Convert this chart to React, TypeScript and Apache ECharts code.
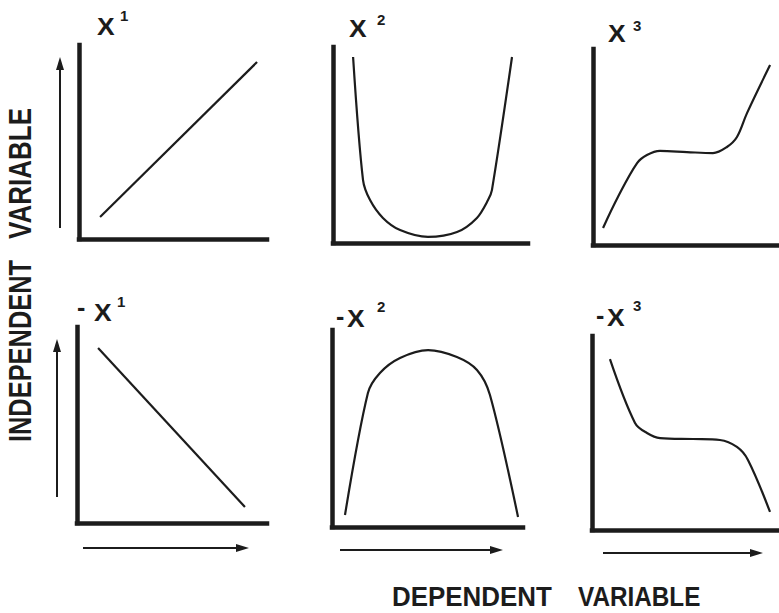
import React, { useEffect, useRef } from "react";
import * as echarts from "echarts";

// Curve shapes (x: 0-100 along dependent axis, y: 0-100 along independent axis)
const xPow1: number[][] = [[11.2, 11.3], [94.7, 91.2]];
const xPow2: number[][] = [
  [10.3, 94.9], [15.4, 32.1], [19.0, 21.9], [25.6, 12.8], [34.4, 6.6], [48.7, 3.1],
  [63.6, 5.6], [73.8, 12.8], [79.5, 21.9], [81.5, 27.0], [91.8, 94.9],
];
const xPow3: number[][] = [
  [5.4, 8.7], [13.4, 24.5], [23.7, 41.8], [29.0, 45.9], [36.0, 48.0], [50.5, 47.4],
  [64.5, 46.9], [72.0, 50.0], [77.4, 55.1], [82.8, 67.3], [95.2, 91.8],
];
const negPow1: number[][] = [[11.1, 89.3], [88.4, 8.2]];
const negPow2: number[][] = [
  [6.8, 6.1], [18.8, 68.0], [25.1, 78.2], [35.6, 85.8], [50.3, 89.8], [65.4, 86.3],
  [75.9, 79.7], [82.7, 67.0], [97.4, 5.1],
];
const negPow3: number[][] = [
  [9.6, 88.1], [23.0, 55.2], [29.4, 50.0], [36.4, 47.4], [54.0, 46.9], [68.4, 46.4],
  [77.5, 42.8], [83.4, 36.1], [95.2, 9.3],
];

const panelSeries = [xPow1, xPow2, xPow3, negPow1, negPow2, negPow3];
const panelSmooth = [false, 0.3, 0.35, false, 0.3, 0.35];
const titleSign = ["", "", "", "-", "-", "-"];
const titleBase = ["X", "X", "X", "X", "X", "X"];
const titleExp = ["1", "2", "3", "1", "2", "3"];
const yAxisLabel = ["INDEPENDENT", "VARIABLE"];
const xAxisLabel = ["DEPENDENT", "VARIABLE"];

// layout (pixels)
const grids = [
  { left: 79, top: 45, width: 188, height: 194 },
  { left: 333, top: 47, width: 195, height: 196 },
  { left: 593, top: 49, width: 186, height: 196 },
  { left: 77, top: 327, width: 190, height: 196 },
  { left: 332, top: 330, width: 191, height: 197 },
  { left: 592, top: 336, width: 187, height: 194 },
];
// title layout: minus left/centre y, X left, X cap-centre y, exponent left, exponent centre y
const titlePos = [
  { ml: 0, my: 0, xl: 97, xy: 26, el: 120, ey: 15.5 },
  { ml: 0, my: 0, xl: 349, xy: 28.5, el: 377, ey: 19.5 },
  { ml: 0, my: 0, xl: 608, xy: 33, el: 633, ey: 25 },
  { ml: 77, my: 309, xl: 94, xy: 312.5, el: 117, ey: 301.5 },
  { ml: 336, my: 317.5, xl: 347, xy: 318, el: 377, ey: 306 },
  { ml: 596, my: 317, xl: 607, xy: 317.5, el: 633, ey: 305 },
];

const INK = "#1c1c1c";
const FONT = '"Liberation Sans", Arial, Helvetica, sans-serif';

function arrow(x1: number, y1: number, x2: number, y2: number) {
  const dx = x2 - x1;
  const dy = y2 - y1;
  const len = Math.sqrt(dx * dx + dy * dy);
  const ux = dx / len;
  const uy = dy / len;
  const headL = 13;
  const headW = 4;
  const bx = x2 - ux * headL;
  const by = y2 - uy * headL;
  return [
    {
      type: "line",
      shape: { x1, y1, x2: bx, y2: by },
      style: { stroke: INK, lineWidth: 2 },
      silent: true,
    },
    {
      type: "polygon",
      shape: {
        points: [
          [x2, y2],
          [bx - uy * headW, by + ux * headW],
          [bx + uy * headW, by - ux * headW],
        ],
      },
      style: { fill: INK },
      silent: true,
    },
  ];
}

function txt(text: string, x: number, y: number, size: number, weight: string, extra: any = {}) {
  const align = extra.align || "left";
  const { align: _a, ...rest } = extra;
  return {
    type: "text",
    x,
    y,
    silent: true,
    ...rest,
    style: {
      text,
      x: 0,
      y: 0,
      fontSize: size,
      fontWeight: weight,
      fontFamily: FONT,
      fill: INK,
      align,
      verticalAlign: "middle",
      textAlign: align,
      textVerticalAlign: "middle",
    },
  };
}

export default function App() {
  const ref = useRef<HTMLDivElement>(null);
  useEffect(() => {
    if (!ref.current) return;
    const chart = echarts.init(ref.current, undefined, { renderer: "svg" });

    const axisCommon = {
      type: "value",
      min: 0,
      max: 100,
      axisLine: { show: true, onZero: false, lineStyle: { color: INK, width: 4.5, cap: "square" } },
      axisTick: { show: false },
      axisLabel: { show: false },
      splitLine: { show: false },
    };

    const graphics: any[] = [];
    // arrows
    graphics.push(...arrow(60, 228, 60, 57));
    graphics.push(...arrow(57, 497, 57, 339));
    graphics.push(...arrow(83, 548, 249, 548));
    graphics.push(...arrow(340, 550, 503, 550));
    graphics.push(...arrow(603, 553, 763, 553));

    // titles
    titlePos.forEach((p, i) => {
      if (titleSign[i]) {
        graphics.push(txt(titleSign[i], p.ml, p.my - 1.7, 25, "bold"));
      }
      graphics.push(txt(titleBase[i], p.xl, p.xy, 24.5, "bold", { scaleX: 1.08 }));
      graphics.push(txt(titleExp[i], p.el, p.ey, 15, "bold"));
    });

    // axis titles
    graphics.push(
      txt(yAxisLabel[0], 20, 351, 31, "bold", { rotation: Math.PI / 2, scaleX: 0.82, align: "center" })
    );
    graphics.push(
      txt(yAxisLabel[1], 20, 173.5, 31, "bold", { rotation: Math.PI / 2, scaleX: 0.84, align: "center" })
    );
    graphics.push(txt(xAxisLabel[0], 392, 597, 27, "bold", { scaleX: 0.96 }));
    graphics.push(txt(xAxisLabel[1], 578, 597, 27, "bold", { scaleX: 0.9 }));

    chart.setOption({
      animation: false,
      backgroundColor: "#ffffff",
      grid: grids.map((g) => ({ ...g, containLabel: false })),
      xAxis: grids.map((_, i) => ({ ...axisCommon, gridIndex: i })),
      yAxis: grids.map((_, i) => ({ ...axisCommon, gridIndex: i })),
      series: panelSeries.map((d, i) => ({
        name: `${titleSign[i]}${titleBase[i]}^${titleExp[i]}`,
        type: "line",
        xAxisIndex: i,
        yAxisIndex: i,
        data: d,
        symbol: "none",
        showSymbol: false,
        smooth: panelSmooth[i],
        lineStyle: { color: INK, width: 2.2 },
        silent: true,
      })),
      graphic: graphics,
    });

    return () => {
      chart.dispose();
    };
  }, []);

  return (
    <div
      ref={ref}
      style={{ position: "absolute", left: 0, top: 0, width: 779, height: 613, background: "#fff" }}
    />
  );
}
